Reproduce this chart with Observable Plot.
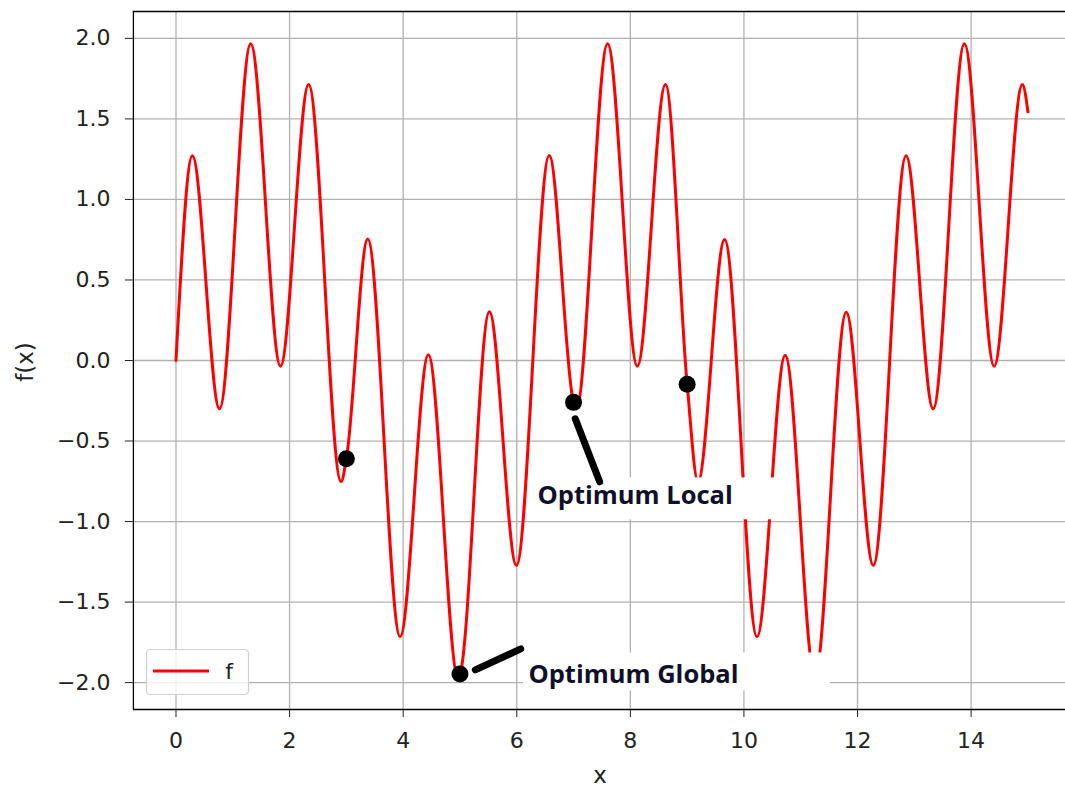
<!DOCTYPE html>
<html>
<head>
<meta charset="utf-8">
<script src="https://cdn.jsdelivr.net/npm/d3@7"></script>
<script src="https://cdn.jsdelivr.net/npm/@observablehq/plot@0.6"></script>
<style>
  html, body { margin: 0; padding: 0; background: #fff; }
  #chart { position: relative; width: 1065px; height: 787px; overflow: hidden; }
</style>
</head>
<body>
<div id="chart"></div>
<script>
// ---- Data ----
// curve f(x): extrema, start/end and the marked points
const curveX = [0, 0.289, 0.766, 1.316, 1.840, 2.336, 2.907, 3, 3.376, 3.947, 4.444, 4.967, 5, 5.518, 5.994, 6.572, 7, 7.049, 7.599, 8.123, 8.619, 9, 9.190, 9.660, 10.230, 10.727, 11.250, 11.801, 12.278, 12.855, 13.332, 13.882, 14.406, 14.903, 15];
const curveY = [0, 1.272, -0.300, 1.967, -0.035, 1.714, -0.752, -0.61, 0.755, -1.715, 0.035, -1.967, -1.947, 0.303, -1.272, 1.273, -0.26, -0.300, 1.967, -0.035, 1.713, -0.147, -0.752, 0.752, -1.715, 0.033, -1.967, 0.300, -1.272, 1.272, -0.300, 1.967, -0.035, 1.713, 1.544];

// black marked points
const pointX = [3, 5, 7, 9];
const pointY = [-0.61, -1.947, -0.26, -0.147];

// annotations (data coordinates)
const annLabel = ["Optimum Local", "Optimum Global"];
const annTextX = [6.365, 6.205];
const annTextY = [-0.842, -1.954];
const annLineX1 = [7.03, 5.27];
const annLineY1 = [-0.362, -1.921];
const annLineX2 = [7.46, 6.07];
const annLineY2 = [-0.753, -1.791];
const annBoxX1 = [6.24, 6.12];
const annBoxX2 = [10.555, 11.52];
const annBoxY1 = [-0.729, -1.816];
const annBoxY2 = [-0.989, -2.052];

const xTicks = [0, 2, 4, 6, 8, 10, 12, 14];
const yTicks = [-2.0, -1.5, -1.0, -0.5, 0.0, 0.5, 1.0, 1.5, 2.0];
const xDomain = [-0.75, 15.75];
const yDomain = [-2.167, 2.167];
const seriesName = "f";
const xLabel = "x";
const yLabel = "f(x)";

// ---- Build tables ----
const curve = curveX.map((x, i) => ({x, y: curveY[i]}));
const points = pointX.map((x, i) => ({x, y: pointY[i]}));
const anns = annLabel.map((label, i) => ({
  label, tx: annTextX[i], ty: annTextY[i],
  x1: annLineX1[i], y1: annLineY1[i], x2: annLineX2[i], y2: annLineY2[i],
  bx1: annBoxX1[i], bx2: annBoxX2[i], by1: annBoxY1[i], by2: annBoxY2[i]
}));

const W = 1065, H = 787;
const chart = Plot.plot({
  width: W, height: H,
  marginLeft: 132.9, marginRight: -5, marginTop: 11, marginBottom: 78,
  style: {fontFamily: "'DejaVu Sans', sans-serif", fontSize: "22px", background: "#fff", color: "#222", overflow: "hidden"},
  x: {domain: xDomain, ticks: xTicks, tickFormat: d => String(d), tickSize: 8, tickPadding: 15, label: null},
  y: {domain: yDomain, ticks: yTicks, tickFormat: d3.format(".1f"), tickSize: 8, tickPadding: 15, label: null},
  marks: [
    Plot.ruleX(xTicks, {stroke: "#b0b0b0", strokeWidth: 1.3}),
    Plot.ruleY(yTicks, {stroke: "#b0b0b0", strokeWidth: 1.3}),
    Plot.line(curve, {x: "x", y: "y", stroke: "#ff0000", strokeWidth: 3, curve: "monotone-x"}),
    Plot.rect(anns, {x1: "bx1", x2: "bx2", y1: "by1", y2: "by2", fill: "#fff"}),
    Plot.text(anns, {x: "tx", y: "ty", text: "label", textAnchor: "start", lineAnchor: "middle",
      fontFamily: "'Open Sans', sans-serif", fontWeight: 700, fontSize: 25.5, fill: "#10102a"}),
    Plot.link(anns, {x1: "x1", y1: "y1", x2: "x2", y2: "y2", stroke: "#000", strokeWidth: 7, strokeLinecap: "round"}),
    Plot.dot(points, {x: "x", y: "y", r: 8.5, fill: "#000", stroke: "none"}),
    // axes frame: left, top, bottom (right edge lies outside the picture)
    Plot.ruleX([xDomain[0]], {stroke: "#000", strokeWidth: 1.3}),
    Plot.ruleY(yDomain, {stroke: "#000", strokeWidth: 1.3})
  ]
});
document.getElementById("chart").appendChild(chart);

// ---- Axis labels and legend ----
const svg = d3.select(chart);
svg.append("text")
  .attr("x", 600).attr("y", 783)
  .attr("text-anchor", "middle")
  .attr("font-family", "'DejaVu Sans', sans-serif").attr("font-size", 23).attr("fill", "#222")
  .text(xLabel);
svg.append("text")
  .attr("transform", "translate(33,362) rotate(-90)")
  .attr("text-anchor", "middle")
  .attr("font-family", "'DejaVu Sans', sans-serif").attr("font-size", 23).attr("fill", "#222")
  .text(yLabel);

const lg = svg.append("g");
lg.append("rect").attr("x", 146.5).attr("y", 649.5).attr("width", 102).attr("height", 45)
  .attr("rx", 4).attr("fill", "#fff").attr("fill-opacity", 0.8).attr("stroke", "#d0d0d0").attr("stroke-width", 1.2);
lg.append("line").attr("x1", 153).attr("x2", 209).attr("y1", 671).attr("y2", 671)
  .attr("stroke", "#ff0000").attr("stroke-width", 3);
lg.append("text").attr("x", 229).attr("y", 671).attr("dy", "0.35em")
  .attr("font-family", "'DejaVu Sans', sans-serif").attr("font-size", 22).attr("fill", "#222")
  .text(seriesName);
</script>
</body>
</html>
